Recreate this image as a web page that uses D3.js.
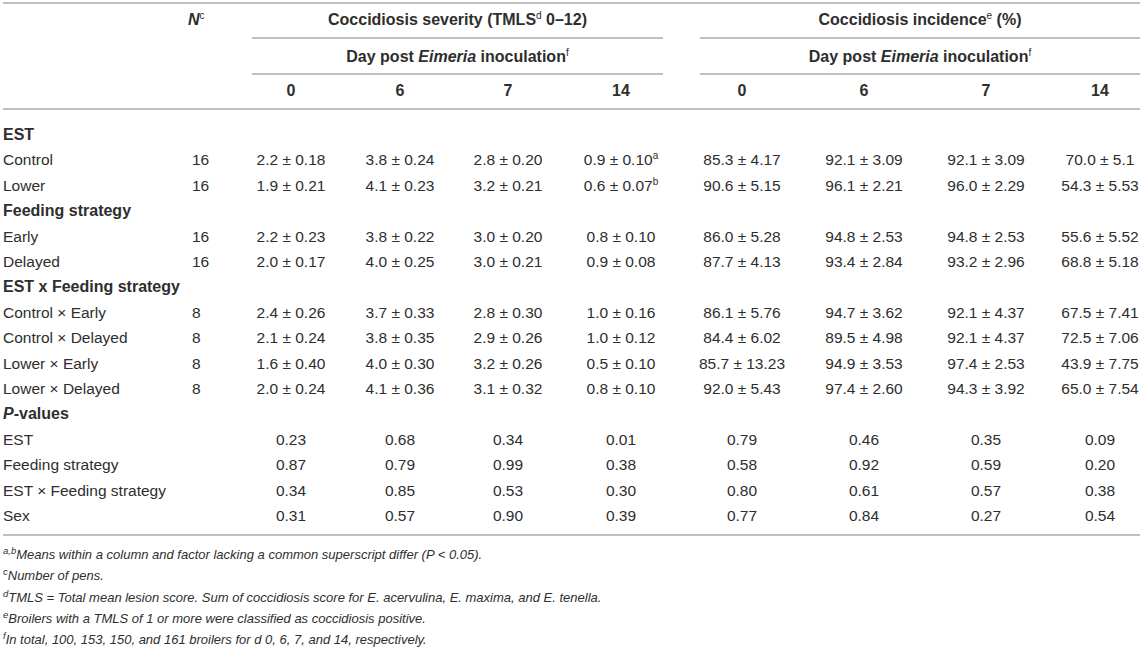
<!DOCTYPE html>
<html lang="en">
<head>
<meta charset="UTF-8">
<title>Coccidiosis table</title>
<script src="https://d3js.org/d3.v7.min.js"></script>
<style>
  body { margin: 0; background: #fff; }
  svg { display: block; font-family: "Liberation Sans", Arial, sans-serif; }
  .txt { fill: #2e2e2e; font-size: 15.5px; }
  .bold { font-weight: bold; font-size: 16px; }
  .foot { fill: #2e2e2e; font-size: 13px; font-style: italic; }
  .rule { stroke: #aaaaaa; stroke-width: 1.6; }
</style>
</head>
<body>
<script>
// ---- data ----
const dayLabels = ["0", "6", "7", "14"];
const groupTitles = ["Coccidiosis severity", "Coccidiosis incidence"];

const sections = ["EST", "Feeding strategy", "EST x Feeding strategy", "P-values"];
const estLevels = ["Control", "Lower"];
const feedingLevels = ["Early", "Delayed"];
const interactionLevels = ["Control × Early", "Control × Delayed", "Lower × Early", "Lower × Delayed"];
const pLabels = ["EST", "Feeding strategy", "EST × Feeding strategy", "Sex"];

const penCounts = [16, 16, 16, 16, 8, 8, 8, 8];

// severity (TMLS) mean and SEM, days 0, 6, 7, 14
const severityMean = [
  ["2.2", "3.8", "2.8", "0.9"],
  ["1.9", "4.1", "3.2", "0.6"],
  ["2.2", "3.8", "3.0", "0.8"],
  ["2.0", "4.0", "3.0", "0.9"],
  ["2.4", "3.7", "2.8", "1.0"],
  ["2.1", "3.8", "2.9", "1.0"],
  ["1.6", "4.0", "3.2", "0.5"],
  ["2.0", "4.1", "3.1", "0.8"]
];
const severitySem = [
  ["0.18", "0.24", "0.20", "0.10"],
  ["0.21", "0.23", "0.21", "0.07"],
  ["0.23", "0.22", "0.20", "0.10"],
  ["0.17", "0.25", "0.21", "0.08"],
  ["0.26", "0.33", "0.30", "0.16"],
  ["0.24", "0.35", "0.26", "0.12"],
  ["0.40", "0.30", "0.26", "0.10"],
  ["0.24", "0.36", "0.32", "0.10"]
];
const severitySup = [
  ["", "", "", "a"],
  ["", "", "", "b"]
];

// incidence (%) mean and SEM, days 0, 6, 7, 14
const incidenceMean = [
  ["85.3", "92.1", "92.1", "70.0"],
  ["90.6", "96.1", "96.0", "54.3"],
  ["86.0", "94.8", "94.8", "55.6"],
  ["87.7", "93.4", "93.2", "68.8"],
  ["86.1", "94.7", "92.1", "67.5"],
  ["84.4", "89.5", "92.1", "72.5"],
  ["85.7", "94.9", "97.4", "43.9"],
  ["92.0", "97.4", "94.3", "65.0"]
];
const incidenceSem = [
  ["4.17", "3.09", "3.09", "5.1"],
  ["5.15", "2.21", "2.29", "5.53"],
  ["5.28", "2.53", "2.53", "5.52"],
  ["4.13", "2.84", "2.96", "5.18"],
  ["5.76", "3.62", "4.37", "7.41"],
  ["6.02", "4.98", "4.37", "7.06"],
  ["13.23", "3.53", "2.53", "7.75"],
  ["5.43", "2.60", "3.92", "7.54"]
];

// P-values: severity d0, d6, d7, d14, incidence d0, d6, d7, d14
const pValues = [
  ["0.23", "0.68", "0.34", "0.01", "0.79", "0.46", "0.35", "0.09"],
  ["0.87", "0.79", "0.99", "0.38", "0.58", "0.92", "0.59", "0.20"],
  ["0.34", "0.85", "0.53", "0.30", "0.80", "0.61", "0.57", "0.38"],
  ["0.31", "0.57", "0.90", "0.39", "0.77", "0.84", "0.27", "0.54"]
];

const footnotes = [
  {sup: "a,b", text: "Means within a column and factor lacking a common superscript differ (P < 0.05)."},
  {sup: "c", text: "Number of pens."},
  {sup: "d", text: "TMLS = Total mean lesion score. Sum of coccidiosis score for E. acervulina, E. maxima, and E. tenella."},
  {sup: "e", text: "Broilers with a TMLS of 1 or more were classified as coccidiosis positive."},
  {sup: "f", text: "In total, 100, 153, 150, and 161 broilers for d 0, 6, 7, and 14, respectively."}
];

// ---- layout ----
const width = 1143, height = 647;
const colKeys = d3.range(8);
const x = d3.scaleOrdinal(colKeys, [291, 400, 508, 621, 742, 864, 986, 1100]);
const xLabel = 3, xN = 192;
const rowY = d3.scaleLinear([0, 15], [135, 516]);
const footY = d3.scaleLinear([0, 4], [555, 640]);
const groupSpan = [[252, 663], [700, 1140]];

const svg = d3.select("body").append("svg")
  .attr("width", width).attr("height", height)
  .attr("viewBox", [0, 0, width, height]);

const base = 5; // baseline offset from row centre

// rules
const rules = [
  [3, 1140, 3],
  [groupSpan[0][0], groupSpan[0][1], 38],
  [groupSpan[1][0], groupSpan[1][1], 38],
  [groupSpan[0][0], groupSpan[0][1], 74],
  [groupSpan[1][0], groupSpan[1][1], 74],
  [3, 1140, 109],
  [3, 1140, 535]
];
svg.append("g").selectAll("line").data(rules).join("line")
  .attr("class", "rule")
  .attr("x1", d => d[0]).attr("x2", d => d[1])
  .attr("y1", d => d[2]).attr("y2", d => d[2]);

// header
const head = svg.append("g").attr("class", "txt bold");
const nHead = head.append("text").attr("x", xN - 4).attr("y", 20 + base);
nHead.append("tspan").style("font-style", "italic").text("N");
nHead.append("tspan").attr("dy", -6).style("font-size", "10px").style("font-weight", "normal").text("c");

const groupCenter = i => (groupSpan[i][0] + groupSpan[i][1]) / 2;

const g1 = head.append("text").attr("x", groupCenter(0)).attr("y", 20 + base).attr("text-anchor", "middle");
g1.append("tspan").text(groupTitles[0] + " (TMLS");
g1.append("tspan").attr("dy", -6).style("font-size", "10px").style("font-weight", "normal").text("d");
g1.append("tspan").attr("dy", 6).text(" 0–12)");

const g2 = head.append("text").attr("x", groupCenter(1)).attr("y", 20 + base).attr("text-anchor", "middle");
g2.append("tspan").text(groupTitles[1]);
g2.append("tspan").attr("dy", -6).style("font-size", "10px").style("font-weight", "normal").text("e");
g2.append("tspan").attr("dy", 6).text(" (%)");

[0, 1].forEach(i => {
  const t = head.append("text").attr("x", groupCenter(i)).attr("y", 57 + base).attr("text-anchor", "middle");
  t.append("tspan").text("Day post ");
  t.append("tspan").style("font-style", "italic").text("Eimeria");
  t.append("tspan").text(" inoculation");
  t.append("tspan").attr("dy", -6).style("font-size", "10px").style("font-weight", "normal").text("f");
});

head.selectAll("text.day").data(colKeys).join("text")
  .attr("class", "day")
  .attr("x", d => x(d)).attr("y", 91 + base)
  .attr("text-anchor", "middle")
  .text(d => dayLabels[d % 4]);

// body rows
const rows = [];
rows.push({type: "section", label: sections[0]});
estLevels.forEach((l, i) => rows.push({type: "data", label: l, k: i}));
rows.push({type: "section", label: sections[1]});
feedingLevels.forEach((l, i) => rows.push({type: "data", label: l, k: i + 2}));
rows.push({type: "section", label: sections[2]});
interactionLevels.forEach((l, i) => rows.push({type: "data", label: l, k: i + 4}));
rows.push({type: "section", label: sections[3], pItalic: true});
pLabels.forEach((l, i) => rows.push({type: "p", label: l, k: i}));

const body = svg.append("g").attr("class", "txt");

rows.forEach((r, ri) => {
  const y = rowY(ri) + base;
  const lab = body.append("text").attr("x", xLabel).attr("y", y);
  if (r.type === "section") {
    lab.classed("bold", true);
    if (r.pItalic) {
      lab.append("tspan").style("font-style", "italic").text("P");
      lab.append("tspan").text("-values");
    } else {
      lab.text(r.label);
    }
    return;
  }
  lab.text(r.label);

  if (r.type === "data") {
    body.append("text").attr("x", xN).attr("y", y).text(penCounts[r.k]);
    colKeys.forEach(c => {
      const j = c % 4;
      const sev = c < 4;
      const mean = sev ? severityMean[r.k][j] : incidenceMean[r.k][j];
      const sem = sev ? severitySem[r.k][j] : incidenceSem[r.k][j];
      const sup = sev && severitySup[r.k] ? severitySup[r.k][j] : "";
      const t = body.append("text").attr("x", x(c)).attr("y", y).attr("text-anchor", "middle");
      t.append("tspan").text(`${mean} ± ${sem}`);
      if (sup) t.append("tspan").attr("dy", -6).style("font-size", "10px").text(sup);
    });
  } else {
    colKeys.forEach(c => {
      body.append("text").attr("x", x(c)).attr("y", y)
        .attr("text-anchor", "middle").text(pValues[r.k][c]);
    });
  }
});

// footnotes
const foot = svg.append("g").attr("class", "foot");
footnotes.forEach((f, i) => {
  const t = foot.append("text").attr("x", 3).attr("y", footY(i) + 4);
  t.append("tspan").attr("dy", -5).style("font-size", "9.5px").text(f.sup);
  t.append("tspan").attr("dy", 5).text(f.text);
});
</script>
</body>
</html>
